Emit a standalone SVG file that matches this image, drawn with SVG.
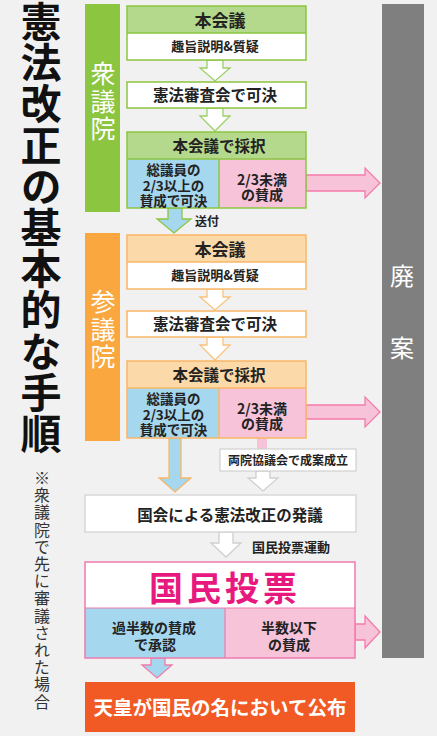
<svg xmlns="http://www.w3.org/2000/svg" width="437" height="736" viewBox="0 0 437 736">
<style>
text{font-family:"Noto Sans CJK JP","Noto Sans CJK SC","Noto Sans",sans-serif;}
.b{font-weight:700;fill:#222;}
.m{text-anchor:middle;}
.w{fill:#fff;}
.v{writing-mode:vertical-rl;}
.gO{fill:none;stroke:#8cc540;stroke-width:1.5;}
.oO{fill:none;stroke:#f9b767;stroke-width:1.5;}
.gH{fill:#b4d88c;}
.oH{fill:#fcd9a8;}
.wh{fill:#fff;}
.bl{fill:#a5d7ee;}
.pk{fill:#f7c3d8;}
.ga{fill:#fff;stroke:#9ccf63;stroke-width:1.3;}
.oa{fill:#fff;stroke:#f9c27e;stroke-width:1.3;}
.wa{fill:#fff;stroke:#cfcfcf;stroke-width:1.3;}
.pa{fill:#f7c3d8;stroke:#f37bab;stroke-width:1.3;}
</style>
<rect width="437" height="736" fill="#f1f1f1"/>

<g id="title">
<text class="v" font-size="41" font-weight="700" fill="#111" x="41" y="1" letter-spacing="0.2">憲法改正の基本的な手順</text>
</g>

<g id="note">
<text class="v" font-size="16" fill="#333" x="42" y="470" letter-spacing="1.2">※衆議院で先に審議された場合</text>
</g>

<g id="shugiin">
<rect x="85" y="4" width="35" height="208" fill="#8cc540"/>
<text class="v w" font-size="25" x="103" y="61" letter-spacing="2.5">衆議院</text>
</g>

<g id="sangiin">
<rect x="85" y="233" width="35" height="208" fill="#f9a73e"/>
<text class="v w" font-size="25" x="103" y="289" letter-spacing="2.5">参議院</text>
</g>

<g id="haian">
<rect x="382" y="4" width="42" height="654" fill="#7f7f7f"/>
<text class="v w" font-size="24" x="402" y="264" letter-spacing="48">廃案</text>
</g>

<g id="connectors">
<polygon class="ga" points="207,60 223,60 223,68 230,68 215,81 200,68 207,68"/>
<polygon class="ga" points="207,108 223,108 223,116 230,116 215,131 200,116 207,116"/>
<polygon class="pa" points="306,175 365,175 365,168 380,183 365,198 365,191 306,191"/>
<polygon points="168,208 182,208 182,219 191,219 174,233 157,219 168,219" fill="#a5d7ee" stroke="#8cc540" stroke-width="1.3"/>
<polygon class="oa" points="207,289 223,289 223,297 230,297 215,310 200,297 207,297"/>
<polygon class="oa" points="207,337 223,337 223,345 230,345 215,360 200,345 207,345"/>
<polygon class="pa" points="306,405 365,405 365,397 380,412 365,427 365,419 306,419"/>
<polygon points="169,438 181,438 181,478 191,478 175,492 159,478 169,478" fill="#a5d7ee" stroke="#f9b767" stroke-width="1.3"/>
<rect x="257" y="438" width="10" height="11" fill="#f7c3d8"/>
<polygon class="wa" points="256,471 270,471 270,478 278,478 263,491 248,478 256,478"/>
<polygon class="wa" points="219,532 233,532 233,543 241,543 226,557 211,543 219,543"/>
<polygon class="pa" points="355,624 365,624 365,616 380,632 365,648 365,640 355,640"/>
<polygon points="151,658 165,658 165,665 172,665 157,678 142,665 151,665" fill="#a5d7ee" stroke="#f37bab" stroke-width="1.3"/>
<text class="b" font-size="12" x="195" y="226">送付</text>
<text class="b" font-size="13" x="252" y="552">国民投票運動</text>
</g>

<g id="s-honkaigi">
<rect class="gH" x="127" y="6" width="179" height="27"/>
<rect class="wh" x="127" y="33" width="179" height="27"/>
<rect class="gO" x="127" y="6" width="179" height="54"/>
<line class="gO" x1="127" y1="33" x2="306" y2="33"/>
<text class="b m" font-size="17" x="220" y="27">本会議</text>
<text class="b m" font-size="13" x="215" y="51">趣旨説明&amp;質疑</text>
</g>

<g id="s-shinsakai">
<rect class="gO" x="127" y="82" width="179" height="26" style="fill:#fff"/>
<text class="b m" font-size="15.5" x="215" y="101">憲法審査会で可決</text>
</g>

<g id="s-saitaku">
<rect class="gH" x="127" y="132" width="179" height="27"/>
<rect class="bl" x="127" y="159" width="92" height="49"/>
<rect class="pk" x="219" y="159" width="87" height="49"/>
<rect class="gO" x="127" y="132" width="179" height="76"/>
<line class="gO" x1="127" y1="159" x2="306" y2="159"/>
<line class="gO" x1="219" y1="159" x2="219" y2="208"/>
<text class="b m" font-size="15.5" x="219" y="152">本会議で採択</text>
<text class="b m" font-size="13.5"><tspan x="173.5" y="175">総議員の</tspan><tspan x="173.5" y="190.5">2/3以上の</tspan><tspan x="173.5" y="206">賛成で可決</tspan></text>
<text class="b m" font-size="14"><tspan x="262" y="185">2/3未満</tspan><tspan x="262" y="200">の賛成</tspan></text>
</g>

<g id="a-honkaigi">
<rect class="oH" x="127" y="235" width="179" height="27"/>
<rect class="wh" x="127" y="262" width="179" height="27"/>
<rect class="oO" x="127" y="235" width="179" height="54"/>
<line class="oO" x1="127" y1="262" x2="306" y2="262"/>
<text class="b m" font-size="17" x="220" y="256">本会議</text>
<text class="b m" font-size="13" x="215" y="280">趣旨説明&amp;質疑</text>
</g>

<g id="a-shinsakai">
<rect class="oO" x="127" y="311" width="179" height="26" style="fill:#fff"/>
<text class="b m" font-size="15.5" x="215" y="330">憲法審査会で可決</text>
</g>

<g id="a-saitaku">
<rect class="oH" x="127" y="361" width="179" height="27"/>
<rect class="bl" x="127" y="388" width="92" height="50"/>
<rect class="pk" x="219" y="388" width="87" height="50"/>
<rect class="oO" x="127" y="361" width="179" height="77"/>
<line class="oO" x1="127" y1="388" x2="306" y2="388"/>
<line class="oO" x1="219" y1="388" x2="219" y2="438"/>
<text class="b m" font-size="15.5" x="219" y="381">本会議で採択</text>
<text class="b m" font-size="13.5"><tspan x="173.5" y="404">総議員の</tspan><tspan x="173.5" y="419.5">2/3以上の</tspan><tspan x="173.5" y="435">賛成で可決</tspan></text>
<text class="b m" font-size="14"><tspan x="262" y="414">2/3未満</tspan><tspan x="262" y="429">の賛成</tspan></text>
</g>

<g id="ryoin">
<rect x="220" y="449" width="136" height="22" fill="#fff" stroke="#d0d0d0" stroke-width="1.2"/>
<text class="b m" font-size="12" x="288" y="465">両院協議会で成案成立</text>
</g>

<g id="hatsugi">
<rect x="85" y="495" width="271" height="37" fill="#fff" stroke="#d8d8d8" stroke-width="1.5"/>
<text class="b m" font-size="15.5" x="230" y="521">国会による憲法改正の発議</text>
</g>

<g id="kokumin">
<rect x="85" y="562" width="270" height="46" fill="#fff"/>
<rect class="bl" x="85" y="608" width="140" height="50"/>
<rect class="pk" x="225" y="608" width="130" height="50"/>
<rect x="85" y="562" width="270" height="96" fill="none" stroke="#f07aae" stroke-width="1.5"/>
<line x1="85" y1="608" x2="355" y2="608" stroke="#f07aae" stroke-width="1.2"/>
<line x1="225" y1="608" x2="225" y2="658" stroke="#f07aae" stroke-width="1.2"/>
<text class="m" font-size="34" font-weight="700" fill="#e8197e" letter-spacing="4" x="225" y="601">国民投票</text>
<text class="b m" font-size="14"><tspan x="154" y="633">過半数の賛成</tspan><tspan x="155" y="650">で承認</tspan></text>
<text class="b m" font-size="14"><tspan x="289" y="633">半数以下</tspan><tspan x="289" y="650">の賛成</tspan></text>
</g>

<g id="kofu">
<rect x="85" y="682" width="270" height="50" fill="#f15a24"/>
<text class="w m" font-size="19.5" font-weight="700" x="220" y="715">天皇が国民の名において公布</text>
</g>
</svg>
